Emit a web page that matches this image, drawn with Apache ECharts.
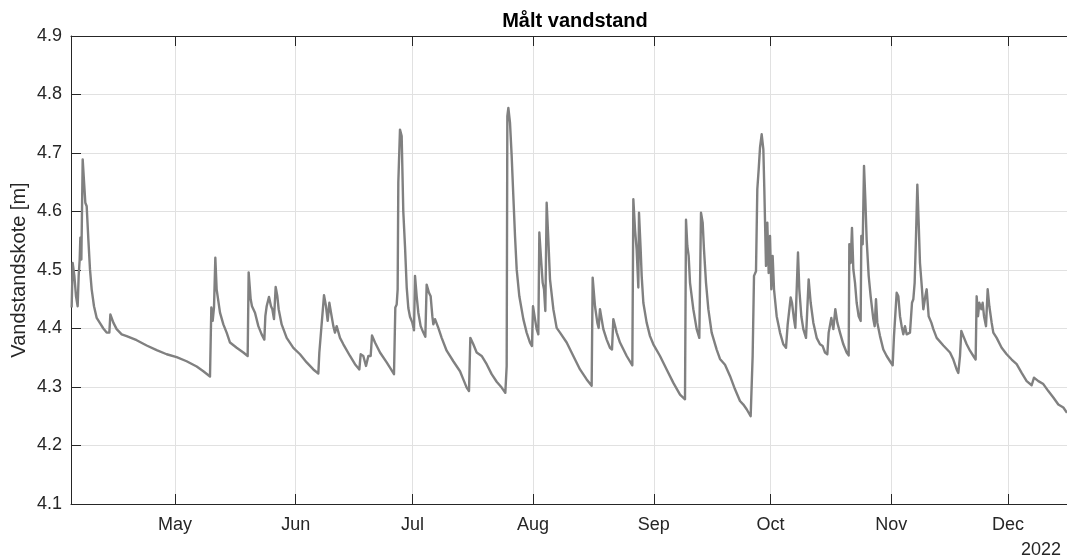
<!DOCTYPE html>
<html>
<head>
<meta charset="utf-8">
<script src="https://cdn.jsdelivr.net/npm/echarts@6/dist/echarts.min.js"></script>
<style>
html,body{margin:0;padding:0;background:#fff;}
#c{width:1067px;height:558px;}
</style>
</head>
<body>
<div id="c"></div>
<script>
// ---------- data ----------
const chartTitle = 'Målt vandstand';
const yAxisTitle = 'Vandstandskote [m]';
const yearLabel = '2022';

const monthTickDates = ['2022-05-01','2022-06-01','2022-07-01','2022-08-01','2022-09-01','2022-10-01','2022-11-01','2022-12-01'];
const monthTickLabels = ['May','Jun','Jul','Aug','Sep','Oct','Nov','Dec'];

const yMin = 4.1, yMax = 4.9, yStep = 0.1;
// visible time window, day of year 2022 (0 = 1 Jan 00:00)
const xStartDay = 93.28, xEndDay = 349.16;

// measurement times as fractional day of year 2022
const dayOfYear = [
93.45,93.71,94.14,94.57,94.99,95.25,95.51,95.68,95.94,96.28,96.62,96.96,97.31,97.74,98.16,98.59,99.19,99.88,100.73,101.59,
102.44,103.13,103.39,104.16,105.01,106.30,107.58,110.15,112.72,115.29,117.86,120.43,122.98,125.57,127.28,128.99,129.33,129.68,130.02,130.36,
130.70,131.56,132.42,133.27,134.13,135.84,137.55,138.67,138.92,139.44,139.78,140.12,140.55,141.41,142.26,142.95,143.21,143.55,144.15,144.66,
145.01,145.43,145.86,146.29,146.63,147.40,148.69,150.40,152.11,153.83,155.54,156.82,157.08,157.42,158.28,158.79,159.22,159.65,160.08,160.68,
161.10,161.53,162.39,163.25,164.96,166.24,167.36,167.70,168.38,169.07,169.67,170.27,170.61,171.38,172.67,174.38,175.23,176.26,176.60,176.95,
177.20,177.37,177.80,178.23,178.65,179.09,179.53,179.94,180.37,180.97,181.40,181.66,182.09,182.51,183.11,183.80,184.31,184.65,185.25,185.68,
186.11,186.37,186.80,187.22,187.65,188.51,189.79,191.50,193.22,194.07,194.93,195.53,195.87,196.64,197.50,198.78,200.07,201.35,202.64,203.92,
204.86,205.21,205.38,205.64,206.06,206.49,206.92,207.35,207.78,208.46,209.49,210.34,211.20,211.71,211.97,212.49,212.91,213.34,213.60,214.11,
214.46,214.80,215.14,215.48,215.91,216.34,217.20,218.05,218.91,220.62,222.33,224.05,225.76,227.04,227.30,227.90,228.50,228.84,229.18,229.61,
230.04,230.90,231.75,232.27,232.61,233.47,234.32,236.04,237.49,237.75,238.18,238.60,239.03,239.20,239.63,239.89,240.32,241.17,242.03,242.89,
244.60,246.31,248.03,249.74,251.02,251.28,251.62,251.96,252.31,253.16,254.02,254.70,255.13,255.56,255.90,256.42,257.02,257.87,259.16,260.01,
260.44,261.30,262.58,263.87,265.15,266.01,266.86,267.89,268.40,268.75,269.26,269.60,269.95,270.29,270.72,271.15,271.40,271.83,272.17,272.52,
272.86,273.20,273.54,273.89,274.57,275.43,276.28,276.97,277.40,277.83,278.17,278.51,279.02,279.37,279.71,280.05,280.39,280.91,281.42,282.11,
282.62,282.79,283.31,283.99,284.85,285.70,286.39,286.99,287.59,287.93,288.27,288.61,289.13,289.64,290.16,290.84,291.70,292.55,293.07,293.24,
293.58,293.92,294.27,294.70,295.12,295.64,296.15,296.32,296.67,297.01,297.35,297.69,298.21,298.72,299.40,299.75,300.09,300.43,301.12,301.97,
302.83,303.69,304.37,304.71,305.06,305.40,305.83,306.26,306.68,307.11,307.54,307.97,308.82,309.17,309.34,309.68,310.02,310.37,310.71,311.05,
311.39,311.91,312.25,312.76,313.11,313.62,314.31,314.82,315.68,317.39,319.10,319.96,320.81,321.24,321.67,322.01,322.53,323.38,324.24,325.10,
325.69,325.95,326.30,326.64,327.15,327.49,327.84,328.35,328.78,329.21,329.80,330.23,331.09,332.37,333.66,334.94,336.23,337.51,338.80,340.08,
340.68,341.80,343.08,344.36,345.65,346.93,348.22,349.16
];

// measured water level [m]
const level = [
4.436,4.512,4.490,4.455,4.438,4.490,4.518,4.555,4.518,4.689,4.686,4.615,4.609,4.552,4.501,4.467,4.438,4.418,4.409,4.400,
4.393,4.393,4.424,4.410,4.399,4.390,4.387,4.380,4.371,4.363,4.356,4.351,4.344,4.335,4.327,4.318,4.436,4.413,4.436,4.521,
4.467,4.427,4.407,4.393,4.376,4.367,4.359,4.353,4.496,4.450,4.438,4.441,4.427,4.404,4.390,4.381,4.421,4.438,4.454,4.438,
4.433,4.416,4.471,4.455,4.433,4.407,4.384,4.367,4.356,4.342,4.330,4.323,4.359,4.360,4.457,4.438,4.413,4.444,4.427,4.404,
4.393,4.404,4.384,4.373,4.353,4.339,4.330,4.356,4.353,4.336,4.353,4.353,4.388,4.376,4.359,4.342,4.333,4.322,4.436,4.441,
4.467,4.649,4.740,4.729,4.600,4.540,4.470,4.435,4.420,4.410,4.397,4.490,4.455,4.427,4.404,4.393,4.386,4.475,4.461,4.455,
4.421,4.407,4.416,4.414,4.401,4.384,4.362,4.344,4.327,4.313,4.299,4.293,4.384,4.373,4.359,4.353,4.339,4.322,4.309,4.299,
4.290,4.336,4.763,4.777,4.752,4.695,4.626,4.558,4.501,4.455,4.416,4.393,4.376,4.370,4.438,4.416,4.399,4.390,4.564,4.512,
4.478,4.467,4.430,4.615,4.552,4.484,4.433,4.401,4.393,4.376,4.353,4.330,4.313,4.302,4.487,4.438,4.410,4.401,4.433,4.416,
4.399,4.381,4.367,4.364,4.416,4.393,4.376,4.353,4.337,4.621,4.569,4.535,4.470,4.598,4.535,4.490,4.444,4.410,4.387,4.373,
4.353,4.330,4.307,4.287,4.279,4.586,4.541,4.524,4.478,4.433,4.399,4.384,4.598,4.581,4.535,4.478,4.433,4.393,4.364,4.348,
4.346,4.338,4.319,4.296,4.276,4.270,4.262,4.250,4.353,4.490,4.498,4.638,4.672,4.709,4.732,4.706,4.638,4.507,4.581,4.495,
4.558,4.467,4.524,4.467,4.421,4.393,4.373,4.367,4.407,4.407,4.453,4.444,4.416,4.401,4.401,4.530,4.467,4.421,4.399,4.384,
4.381,4.484,4.444,4.410,4.384,4.373,4.370,4.359,4.356,4.393,4.393,4.418,4.399,4.433,4.410,4.393,4.373,4.359,4.354,4.544,
4.512,4.572,4.501,4.478,4.444,4.421,4.413,4.558,4.544,4.678,4.621,4.552,4.490,4.455,4.416,4.404,4.450,4.410,4.387,4.364,
4.353,4.344,4.337,4.387,4.387,4.461,4.455,4.421,4.404,4.390,4.404,4.390,4.393,4.390,4.444,4.450,4.478,4.558,4.646,4.581,
4.512,4.467,4.433,4.455,4.467,4.421,4.410,4.399,4.384,4.371,4.359,4.347,4.330,4.324,4.353,4.396,4.387,4.373,4.362,4.353,
4.347,4.455,4.421,4.444,4.433,4.444,4.421,4.404,4.467,4.438,4.410,4.393,4.384,4.367,4.356,4.347,4.339,4.324,4.310,4.303,
4.316,4.310,4.305,4.293,4.282,4.270,4.265,4.256
];

// ---------- build ----------
const DAY = 86400000;
const yearStart = Date.UTC(2022, 0, 1);
const toTime = d => yearStart + d * DAY;
const tickTimes = monthTickDates.map(s => Date.parse(s + 'T00:00:00Z'));
const seriesData = dayOfYear.map((d, i) => [toTime(d), level[i]]);

const FONT = '"Liberation Sans", Arial, Helvetica, sans-serif';
const AX = '#262626';
const GRIDC = '#e1e1e1';

function monthLabel(v) {
  let best = 0, bd = Infinity;
  tickTimes.forEach((t, i) => { const dd = Math.abs(t - v); if (dd < bd) { bd = dd; best = i; } });
  return monthTickLabels[best];
}

const chart = echarts.init(document.getElementById('c'), null, { renderer: 'canvas' });
chart.setOption({
  animation: false,
  backgroundColor: '#ffffff',
  grid: { left: 71, right: 0, top: 36, bottom: 54, containLabel: false },
  xAxis: [
    {
      type: 'value',
      position: 'bottom',
      min: toTime(xStartDay),
      max: toTime(xEndDay),
      axisLine: { show: true, onZero: false, lineStyle: { color: AX, width: 1 } },
      axisTick: { show: true, inside: true, length: 10, customValues: tickTimes, lineStyle: { color: AX, width: 1 } },
      axisLabel: { show: true, customValues: tickTimes, formatter: monthLabel, margin: 12,
                   fontFamily: FONT, fontSize: 18, color: AX },
      splitLine: { show: true, lineStyle: { color: GRIDC, width: 1 } }
    },
    {
      type: 'value',
      position: 'top',
      min: toTime(xStartDay),
      max: toTime(xEndDay),
      axisLine: { show: true, onZero: false, lineStyle: { color: AX, width: 1 } },
      axisTick: { show: true, inside: true, length: 10, customValues: tickTimes, lineStyle: { color: AX, width: 1 } },
      axisLabel: { show: false, customValues: tickTimes },
      splitLine: { show: false }
    }
  ],
  yAxis: {
    type: 'value',
    min: yMin,
    max: yMax,
    interval: yStep,
    axisLine: { show: true, lineStyle: { color: AX, width: 1 } },
    axisTick: { show: true, inside: true, length: 10, lineStyle: { color: AX, width: 1 } },
    axisLabel: { show: true, margin: 9, fontFamily: FONT, fontSize: 18, color: AX,
                 formatter: v => v.toFixed(1) },
    splitLine: { show: true, lineStyle: { color: GRIDC, width: 1 } }
  },
  series: [{
    type: 'line',
    xAxisIndex: 0,
    data: seriesData,
    showSymbol: false,
    symbol: 'none',
    clip: true,
    lineStyle: { color: '#808080', width: 2.4, join: 'round' },
    z: 5
  }],
  graphic: [
    { type: 'text', x: 575, y: 21.5,
      style: { text: chartTitle, font: 'bold 20px ' + FONT, fill: '#000000', align: 'center', verticalAlign: 'middle' } },
    { type: 'text', x: 19.5, y: 270, rotation: Math.PI / 2,
      style: { text: yAxisTitle, font: '20px ' + FONT, fill: AX, align: 'center', verticalAlign: 'middle' } },
    { type: 'text', x: 1061, y: 550,
      style: { text: yearLabel, font: '18px ' + FONT, fill: AX, align: 'right', verticalAlign: 'middle' } }
  ]
});
</script>
</body>
</html>
